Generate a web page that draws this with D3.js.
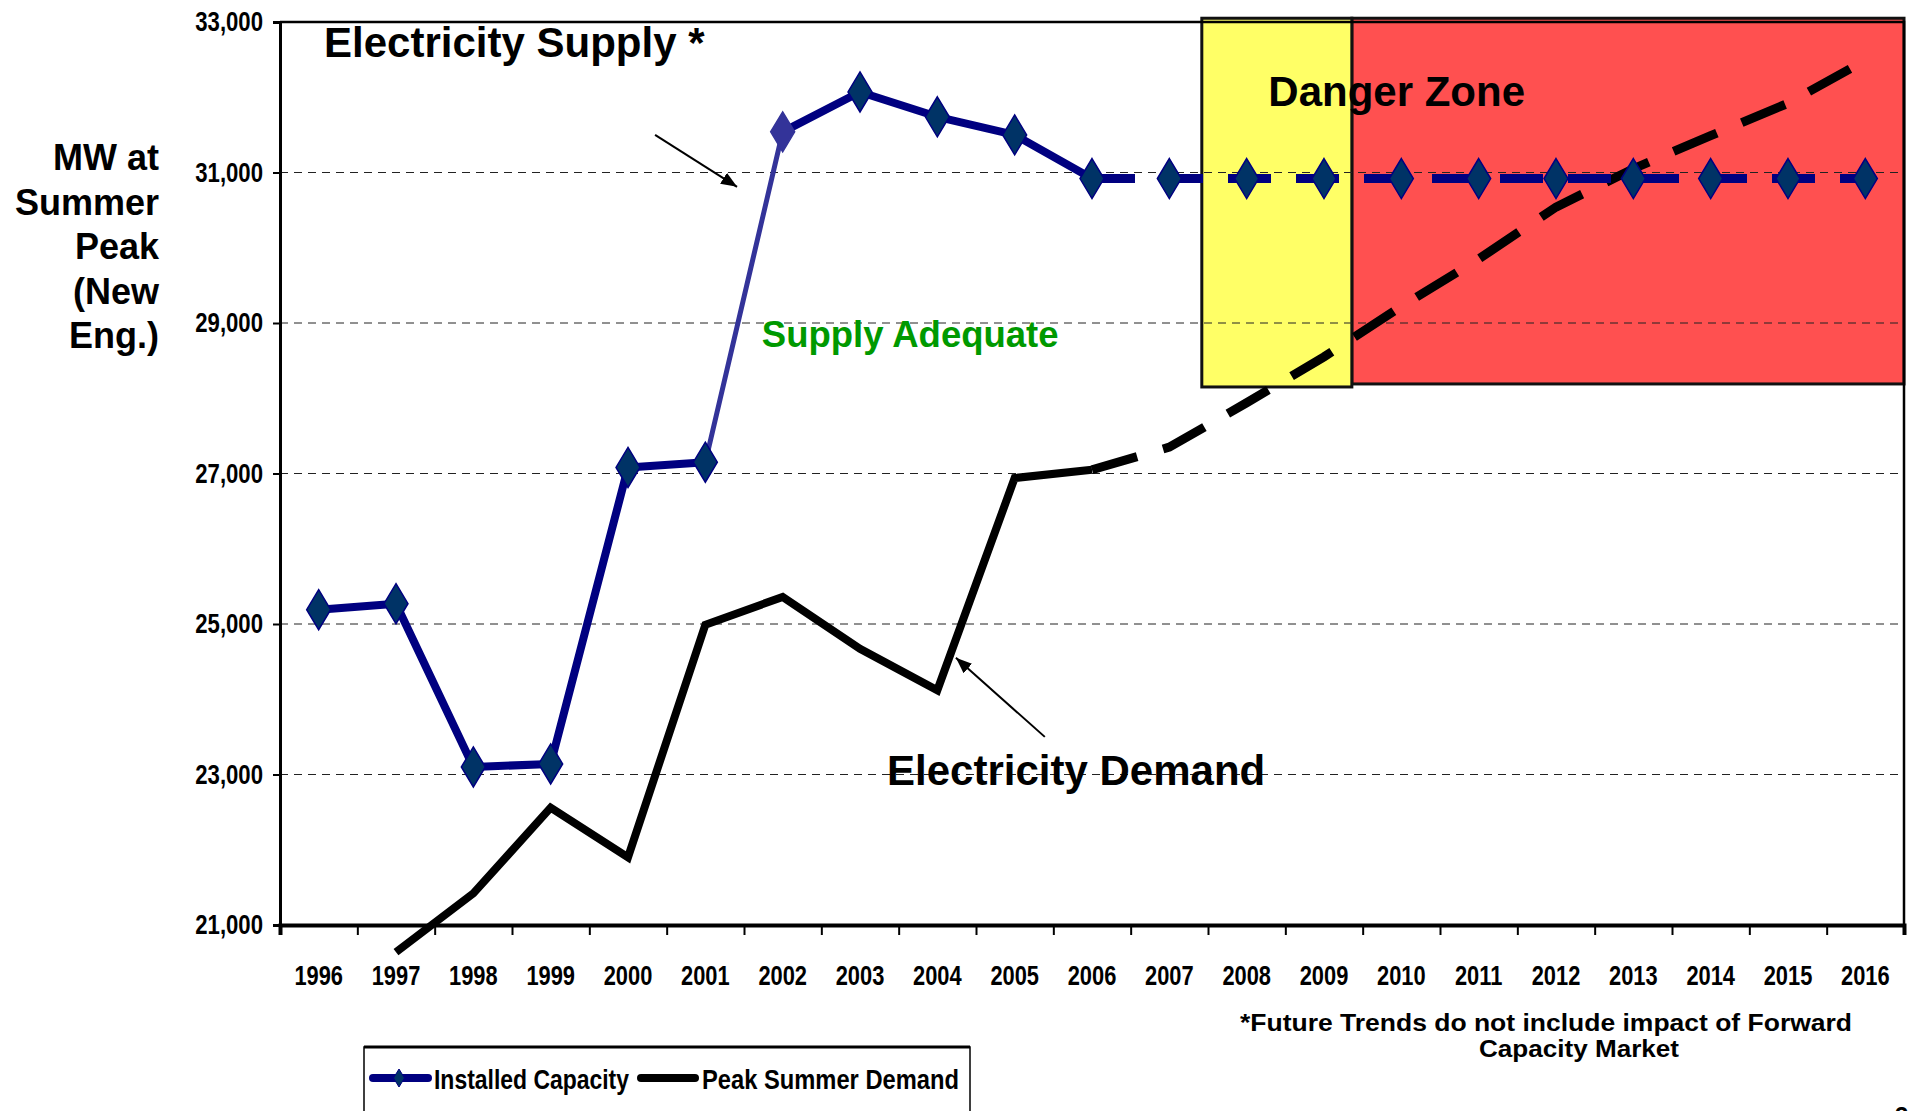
<!DOCTYPE html>
<html>
<head>
<meta charset="utf-8">
<script src="https://cdn.jsdelivr.net/npm/d3@7"></script>
<style>
  body { margin: 0; background: #fff; }
  svg { display: block; }
  .narrow { font-family: "Liberation Sans", Arial, sans-serif; font-weight: bold; }
  .bold { font-family: "Liberation Sans", Arial, sans-serif; font-weight: bold; }
</style>
</head>
<body>
<div id="chart"></div>
<script>
// Data (MW at summer peak, New England)
const years = ["1996", "1997", "1998", "1999", "2000", "2001", "2002", "2003", "2004", "2005", "2006",
               "2007", "2008", "2009", "2010", "2011", "2012", "2013", "2014", "2015", "2016"];
const installedCapacity = [25190, 25270, 23100, 23140, 27080, 27150, 31540, 32070, 31740, 31500, 30920,
                           30920, 30920, 30920, 30920, 30920, 30920, 30920, 30920, 30920, 30920];
const peakDemand = [null, 20640, 21420, 22560, 21900, 24990, 25360, 24670, 24120, 26940, 27050,
                    27350, 27940, 28550, 29220, 29850, 30540, 31050, 31490, 31920, 32490];
const yTicks = [21000, 23000, 25000, 27000, 29000, 31000, 33000];
const lastActualYear = "2006";   // after this year the series are projections (dashed)
const highlightYear = "2002";    // point formatted in a lighter blue

// Layout
const W = 1919, H = 1111;
const plot = { left: 280, right: 1904, top: 22, bottom: 925 };

const svg = d3.select("#chart").append("svg")
    .attr("width", W)
    .attr("height", H);

// no narrow font installed: squeeze the glyphs of a text to a share of its natural width
function squeeze(sel, k) {
    sel.each(function () {
        const len = this.getComputedTextLength();
        d3.select(this)
            .attr("textLength", len * k)
            .attr("lengthAdjust", "spacingAndGlyphs");
    });
}

// stretch/squeeze a text to a given width
function fitWidth(sel, w) {
    sel.attr("textLength", w).attr("lengthAdjust", "spacingAndGlyphs");
}

// Scales
const x = d3.scaleBand().domain(years).range([plot.left, plot.right]);
const xc = d => x(d) + x.bandwidth() / 2;
// position in "category units" (0 = left edge, 21 = right edge), used for ticks and annotations
const xu = d3.scaleLinear().domain([0, years.length]).range([plot.left, plot.right]);
const y = d3.scaleLinear().domain([21000, 33000]).range([plot.bottom, plot.top]);

const rows = years.map((yr, i) => ({ year: yr, cap: installedCapacity[i], dem: peakDemand[i] }));
const lastIdx = years.indexOf(lastActualYear);

// Danger zone boxes (behind everything)
const zones = [
    { from: 13.86, to: 21, top: 33050, bottom: 28190, fill: "#FF5050" },
    { from: 11.92, to: 13.86, top: 33050, bottom: 28150, fill: "#FFFF66" }
];
svg.append("g").selectAll("rect")
    .data(zones)
    .enter().append("rect")
    .attr("x", d => xu(d.from))
    .attr("y", d => y(d.top))
    .attr("width", d => xu(d.to) - xu(d.from))
    .attr("height", d => y(d.bottom) - y(d.top))
    .attr("fill", d => d.fill)
    .attr("stroke", "#111")
    .attr("stroke-width", 3);

// Gridlines (dashed, drawn over the boxes)
svg.append("g").selectAll("line")
    .data(yTicks.slice(1, -1))
    .enter().append("line")
    .attr("x1", plot.left)
    .attr("x2", plot.right)
    .attr("y1", d => y(d))
    .attr("y2", d => y(d))
    .attr("stroke", "#222")
    .attr("stroke-width", 1)
    .attr("stroke-dasharray", "8,6");

// Plot frame top and right
svg.append("path")
    .attr("d", `M${plot.left},${plot.top}H${plot.right}V${plot.bottom}`)
    .attr("fill", "none")
    .attr("stroke", "#000")
    .attr("stroke-width", 2.5);

// Peak summer demand
const demLine = d3.line()
    .defined(d => d.dem != null)
    .x(d => xc(d.year))
    .y(d => y(d.dem));

svg.append("path")
    .datum(rows.slice(0, lastIdx + 1))
    .attr("d", demLine)
    .attr("fill", "none")
    .attr("stroke", "#000")
    .attr("stroke-width", 8)
    .attr("stroke-linejoin", "miter");

svg.append("path")
    .datum(rows.slice(lastIdx))
    .attr("d", demLine)
    .attr("fill", "none")
    .attr("stroke", "#000")
    .attr("stroke-width", 9)
    .attr("stroke-dasharray", "47,27");

// Installed capacity: solid part drawn segment by segment (one segment is lighter)
const actualCap = rows.slice(0, lastIdx + 1);
svg.append("g").selectAll("line")
    .data(d3.pairs(actualCap))
    .enter().append("line")
    .attr("x1", d => xc(d[0].year))
    .attr("y1", d => y(d[0].cap))
    .attr("x2", d => xc(d[1].year))
    .attr("y2", d => y(d[1].cap))
    .attr("stroke", d => d[1].year === highlightYear ? "#333399" : "#000080")
    .attr("stroke-width", d => d[1].year === highlightYear ? 5 : 8)
    .attr("stroke-linecap", "round");

const capLine = d3.line()
    .x(d => xc(d.year))
    .y(d => y(d.cap));

svg.append("path")
    .datum(rows.slice(lastIdx))
    .attr("d", capLine)
    .attr("fill", "none")
    .attr("stroke", "#000080")
    .attr("stroke-width", 9)
    .attr("stroke-dasharray", "43,25");

// Diamond markers
const diamond = "M0,-20L12,0L0,20L-12,0Z";
svg.append("g").selectAll("path")
    .data(rows)
    .enter().append("path")
    .attr("d", diamond)
    .attr("transform", d => `translate(${xc(d.year)},${y(d.cap)})`)
    .attr("fill", d => d.year === highlightYear ? "#333399" : "#003366")
    .attr("stroke", d => d.year === highlightYear ? "#333399" : "#000080")
    .attr("stroke-width", 1.5);

// Y axis
const yAxis = svg.append("g")
    .attr("transform", `translate(${plot.left},0)`)
    .call(d3.axisLeft(y).tickValues(yTicks).tickFormat(d3.format(",")).tickSize(7).tickPadding(10));
yAxis.select(".domain").attr("stroke-width", 3);
yAxis.selectAll(".tick line").attr("stroke-width", 2);
yAxis.selectAll("text")
    .attr("class", "narrow")
    .style("font-size", "27px")
    .attr("fill", "#000")
    .call(squeeze, 0.82);

// X axis: ticks at category edges, labels at centres
const xAxis = svg.append("g")
    .attr("transform", `translate(0,${plot.bottom})`)
    .call(d3.axisBottom(xu).tickValues(d3.range(0, years.length + 1)).tickSize(10).tickFormat(""));
xAxis.select(".domain").attr("stroke-width", 4);
xAxis.selectAll(".tick line").attr("stroke-width", 2);

const xLabels = svg.append("g")
    .attr("transform", `translate(0,${plot.bottom})`)
    .call(d3.axisBottom(x).tickSize(0).tickPadding(40));
xLabels.select(".domain").remove();
xLabels.selectAll("text")
    .attr("class", "narrow")
    .style("font-size", "28px")
    .attr("fill", "#000")
    .call(squeeze, 0.78);

// Y axis title
svg.append("text")
    .attr("class", "bold")
    .attr("text-anchor", "end")
    .style("font-size", "36px")
    .selectAll("tspan")
    .data(["MW at", "Summer", "Peak", "(New", "Eng.)"])
    .enter().append("tspan")
    .attr("x", 159)
    .attr("y", (d, i) => 170 + i * 44.5)
    .text(d => d);

// Annotations
const notes = [
    { text: "Electricity Supply *", u: 0.57, v: 32530, size: 42, color: "#000" },
    { text: "Danger Zone", u: 12.78, v: 31890, size: 42, color: "#000" },
    { text: "Supply Adequate", u: 6.23, v: 28680, size: 36.5, color: "#009900" },
    { text: "Electricity Demand", u: 7.85, v: 22860, size: 42, color: "#000" }
];
svg.append("g").selectAll("text")
    .data(notes)
    .enter().append("text")
    .attr("class", "bold")
    .attr("x", d => xu(d.u))
    .attr("y", d => y(d.v))
    .style("font-size", d => d.size + "px")
    .attr("fill", d => d.color)
    .text(d => d.text);

// Arrows
svg.append("defs").append("marker")
    .attr("id", "arrow")
    .attr("viewBox", "0 0 10 8")
    .attr("refX", 10)
    .attr("refY", 4)
    .attr("markerWidth", 8)
    .attr("markerHeight", 6.4)
    .attr("orient", "auto")
    .append("path")
    .attr("d", "M0,0L10,4L0,8Z")
    .attr("fill", "#000");

const arrows = [
    { u1: 4.85, v1: 31500, u2: 5.91, v2: 30810 },
    { u1: 9.89, v1: 23500, u2: 8.74, v2: 24550 }
];
svg.append("g").selectAll("line")
    .data(arrows)
    .enter().append("line")
    .attr("x1", d => xu(d.u1))
    .attr("y1", d => y(d.v1))
    .attr("x2", d => xu(d.u2))
    .attr("y2", d => y(d.v2))
    .attr("stroke", "#000")
    .attr("stroke-width", 2)
    .attr("marker-end", "url(#arrow)");

// Footnote
svg.append("text")
    .attr("class", "bold")
    .attr("text-anchor", "middle")
    .attr("x", 1546)
    .attr("y", 1031)
    .style("font-size", "23px")
    .text("*Future Trends do not include impact of Forward")
    .call(fitWidth, 612);
svg.append("text")
    .attr("class", "bold")
    .attr("text-anchor", "middle")
    .attr("x", 1579)
    .attr("y", 1057)
    .style("font-size", "23px")
    .text("Capacity Market")
    .call(fitWidth, 200);

// page number, mostly cut off at the bottom as in the original slide
svg.append("text")
    .attr("class", "bold")
    .attr("x", 1895)
    .attr("y", 1124)
    .style("font-size", "24px")
    .text("3");

// Legend
const legend = svg.append("g");
legend.append("rect")
    .attr("x", 364)
    .attr("y", 1047)
    .attr("width", 606)
    .attr("height", 90)
    .attr("fill", "#fff")
    .attr("stroke", "#000")
    .attr("stroke-width", 1.5);
legend.append("line")
    .attr("x1", 364).attr("x2", 970)
    .attr("y1", 1047).attr("y2", 1047)
    .attr("stroke", "#000")
    .attr("stroke-width", 3);

legend.append("line")
    .attr("x1", 373).attr("x2", 428)
    .attr("y1", 1078).attr("y2", 1078)
    .attr("stroke", "#000080")
    .attr("stroke-width", 8)
    .attr("stroke-linecap", "round");
legend.append("path")
    .attr("d", "M0,-9L5.5,0L0,9L-5.5,0Z")
    .attr("transform", "translate(399,1078)")
    .attr("fill", "#003366")
    .attr("stroke", "#000080")
    .attr("stroke-width", 1);
legend.append("text")
    .attr("class", "narrow")
    .attr("x", 434)
    .attr("y", 1089)
    .style("font-size", "28px")
    .text("Installed Capacity")
    .call(fitWidth, 195);

legend.append("line")
    .attr("x1", 641).attr("x2", 695)
    .attr("y1", 1078).attr("y2", 1078)
    .attr("stroke", "#000")
    .attr("stroke-width", 8)
    .attr("stroke-linecap", "round");
legend.append("text")
    .attr("class", "narrow")
    .attr("x", 702)
    .attr("y", 1089)
    .style("font-size", "28px")
    .text("Peak Summer Demand")
    .call(fitWidth, 257);
</script>
</body>
</html>
